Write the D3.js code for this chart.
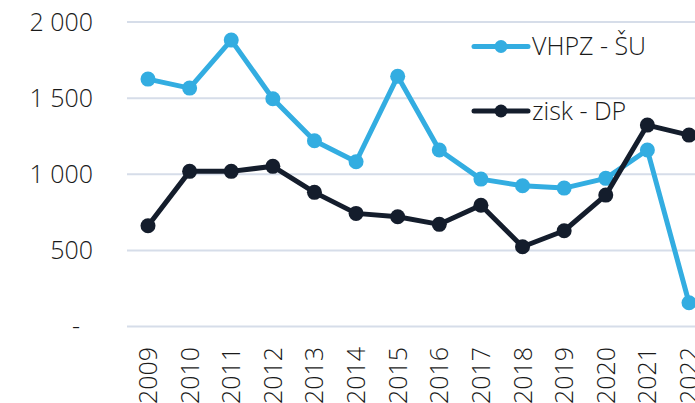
<!DOCTYPE html>
<html>
<head>
<meta charset="utf-8">
<script src="https://cdn.jsdelivr.net/npm/d3@7"></script>
<style>
  html, body { margin: 0; padding: 0; background: #ffffff; }
  svg { display: block; }
  text { font-family: "Open Sans", "Noto Sans", sans-serif; font-weight: 300; fill: #1a1a1a; }
</style>
</head>
<body>
<svg id="chart" width="695" height="403"></svg>
<script>
const years = ["2009","2010","2011","2012","2013","2014","2015","2016","2017","2018","2019","2020","2021","2022"];
const vhpzSU = [1625, 1566, 1881, 1496, 1220, 1082, 1643, 1159, 968, 924, 909, 973, 1159, 156];
const ziskDP = [662, 1019, 1019, 1052, 881, 743, 721, 671, 796, 524, 629, 863, 1323, 1257];
const yTicks = [0, 500, 1000, 1500, 2000];
const seriesNames = ["VHPZ - ŠU", "zisk - DP"];
const seriesColors = ["#33ade1", "#141d2c"];

const svg = d3.select("#chart");

const x = d3.scalePoint().domain(years).range([148, 689]);
const y = d3.scaleLinear().domain([0, 2000]).range([326.5, 22]);

const fmt = v => v === 0 ? "-" : d3.format(",")(v).replace(/,/g, " ");

// horizontal gridlines
svg.append("g")
  .selectAll("line")
  .data(yTicks)
  .join("line")
  .attr("x1", 127).attr("x2", 695)
  .attr("y1", d => y(d)).attr("y2", d => y(d))
  .attr("stroke", "#d6dde9")
  .attr("stroke-width", 2);

// y-axis labels
svg.append("g")
  .selectAll("text")
  .data(yTicks)
  .join("text")
  .attr("x", d => d === 0 ? 80 : 93)
  .attr("y", d => y(d))
  .attr("dy", "0.35em")
  .attr("text-anchor", "end")
  .attr("font-size", 25)
  .text(fmt);

// x-axis labels, rotated
svg.append("g")
  .selectAll("text")
  .data(years)
  .join("text")
  .attr("transform", d => `translate(${x(d) + 9},347) rotate(-90)`)
  .attr("text-anchor", "end")
  .attr("font-size", 25)
  .text(d => d);

// series lines and markers
const series = [vhpzSU, ziskDP];
const line = d3.line().x((d, i) => x(years[i])).y(d => y(d));

series.forEach((vals, s) => {
  const g = svg.append("g");
  g.append("path")
    .datum(vals)
    .attr("fill", "none")
    .attr("stroke", seriesColors[s])
    .attr("stroke-width", 5)
    .attr("stroke-linejoin", "round")
    .attr("d", line);
  g.selectAll("circle")
    .data(vals)
    .join("circle")
    .attr("cx", (d, i) => x(years[i]))
    .attr("cy", d => y(d))
    .attr("r", 7.5)
    .attr("fill", seriesColors[s]);
});

// legend
const legendY = [46.5, 111];
const lg = svg.append("g");
seriesNames.forEach((name, s) => {
  const row = lg.append("g").attr("transform", `translate(0,${legendY[s]})`);
  row.append("line")
    .attr("x1", 474).attr("x2", 528)
    .attr("stroke", seriesColors[s])
    .attr("stroke-width", 5)
    .attr("stroke-linecap", "round");
  row.append("circle")
    .attr("cx", 501).attr("r", 6.5)
    .attr("fill", seriesColors[s]);
  row.append("text")
    .attr("x", 532)
    .attr("dy", "0.35em")
    .attr("font-size", 25)
    .text(name);
});
</script>
</body>
</html>
